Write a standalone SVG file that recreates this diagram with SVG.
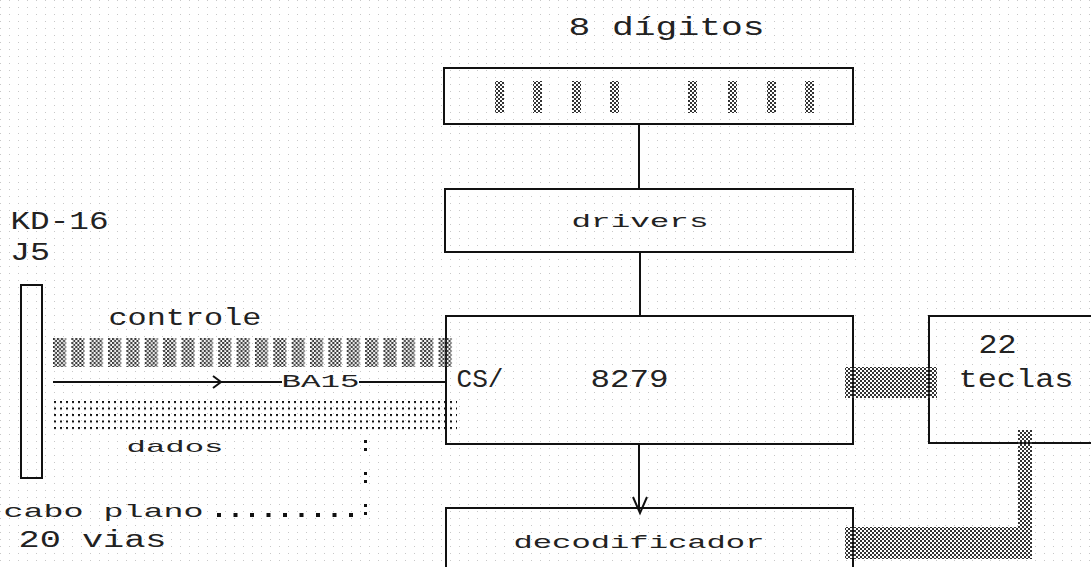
<svg xmlns="http://www.w3.org/2000/svg" width="1091" height="567" viewBox="0 0 1091 567">
  <style>
    .box { fill: none; stroke: #111; stroke-width: 2; }
    .ln { fill: none; stroke: #111; stroke-width: 2; }
    .t { font-family: "Liberation Mono", "DejaVu Sans Mono", monospace; fill: #222; }
  </style>
  <defs>
    <pattern id="bg" patternUnits="userSpaceOnUse" width="9" height="7">
      <rect x="0" y="0" width="1" height="1" fill="#c8c8c8"/>
    </pattern>
    <pattern id="dither" patternUnits="userSpaceOnUse" width="4" height="4">
      <rect x="0" y="0" width="2" height="2" fill="#333"/>
      <rect x="2" y="2" width="2" height="2" fill="#333"/>
    </pattern>
    <pattern id="ctrl" patternUnits="userSpaceOnUse" x="53" y="338" width="18.36" height="29">
      <rect x="0" y="0" width="13" height="29" fill="url(#dither)"/>
    </pattern>
    <pattern id="dots" patternUnits="userSpaceOnUse" x="54" y="401" width="6" height="6.5">
      <rect x="0" y="0" width="2" height="2" fill="#111"/>
    </pattern>
  </defs>

  <rect x="0" y="0" width="1091" height="567" fill="#fff"/>
  <rect x="0" y="0" width="1091" height="567" fill="url(#bg)"/>

  <g id="title">
    <text class="t" x="568.5" y="35" font-size="25" textLength="196" lengthAdjust="spacingAndGlyphs">8  dígitos</text>
  </g>

  <g id="display">
    <rect class="box" x="444" y="68" width="409" height="56"/>
    <g fill="url(#dither)">
      <rect x="495" y="81" width="9" height="32"/>
      <rect x="533" y="81" width="9" height="32"/>
      <rect x="572" y="81" width="9" height="32"/>
      <rect x="610" y="81" width="9" height="32"/>
      <rect x="688" y="81" width="9" height="32"/>
      <rect x="728" y="81" width="9" height="32"/>
      <rect x="767" y="81" width="9" height="32"/>
      <rect x="805" y="81" width="9" height="32"/>
    </g>
  </g>

  <g id="drivers">
    <rect class="box" x="445" y="189" width="408" height="63"/>
    <text class="t" x="571.5" y="227" font-size="19" textLength="137" lengthAdjust="spacingAndGlyphs">drivers</text>
  </g>

  <g id="kd16">
    <text class="t" x="10.5" y="229" font-size="26" textLength="98" lengthAdjust="spacingAndGlyphs">KD-16</text>
    <text class="t" x="10" y="260" font-size="25" textLength="40" lengthAdjust="spacingAndGlyphs">J5</text>
    <rect class="box" x="21" y="285" width="21" height="193"/>
  </g>

  <g id="i8279">
    <rect class="box" x="446" y="316" width="407" height="128"/>
    <text class="t" x="456.5" y="387" font-size="26" textLength="47" lengthAdjust="spacingAndGlyphs">CS/</text>
    <text class="t" x="590.5" y="387" font-size="26" textLength="78" lengthAdjust="spacingAndGlyphs">8279</text>
  </g>

  <g id="teclas">
    <path class="box" d="M1100,316 H929 V443 H1100"/>
    <text class="t" x="978.5" y="353" font-size="27" textLength="38" lengthAdjust="spacingAndGlyphs">22</text>
    <text class="t" x="958.5" y="387" font-size="26" textLength="115" lengthAdjust="spacingAndGlyphs">teclas</text>
  </g>

  <g id="decodificador">
    <rect class="box" x="446" y="508" width="407" height="80"/>
    <text class="t" x="513.5" y="548" font-size="19" textLength="251" lengthAdjust="spacingAndGlyphs">decodificador</text>
  </g>

  <g id="connectors">
    <path class="ln" d="M639,124 V189"/>
    <path class="ln" d="M640,252 V316"/>
    <path class="ln" d="M639,444 V511"/>
    <path class="ln" d="M633,497 L640,513 L647,497"/>
    <!-- controle bus -->
    <rect x="53" y="338" width="404" height="29" fill="url(#ctrl)"/>
    <text class="t" x="108.5" y="325" font-size="23" textLength="153" lengthAdjust="spacingAndGlyphs">controle</text>
    <!-- BA15 line -->
    <path class="ln" d="M53,382 H282"/>
    <path class="ln" d="M359,382 H446"/>
    <path class="ln" d="M213,376 L221,382 L213,388"/>
    <text class="t" x="281.5" y="387" font-size="19" textLength="78" lengthAdjust="spacingAndGlyphs">BA15</text>
    <!-- dados bus -->
    <rect x="53" y="400" width="404" height="32" fill="url(#dots)"/>
    <text class="t" x="126.5" y="452" font-size="17" textLength="97" lengthAdjust="spacingAndGlyphs">dados</text>
    <!-- cabo plano leader -->
    <text class="t" x="3.5" y="517" font-size="19" textLength="200" lengthAdjust="spacingAndGlyphs">cabo plano</text>
    <path d="M217,515 H356" fill="none" stroke="#111" stroke-width="4" stroke-dasharray="4 12.5"/>
    <path d="M365.5,440 V516" fill="none" stroke="#111" stroke-width="3" stroke-dasharray="3 5 3 21"/>
    <text class="t" x="18.5" y="547" font-size="23" textLength="148" lengthAdjust="spacingAndGlyphs">20 vias</text>
    <!-- keyboard buses -->
    <rect x="845" y="367" width="92" height="31" fill="url(#dither)"/>
    <rect x="1018" y="430" width="14" height="129" fill="url(#dither)"/>
    <rect x="845" y="527" width="187" height="32" fill="url(#dither)"/>
  </g>
</svg>
